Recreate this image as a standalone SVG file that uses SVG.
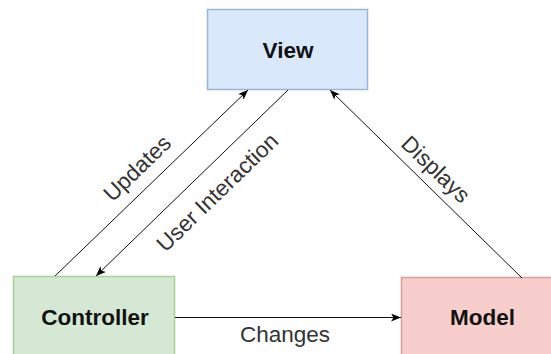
<svg xmlns="http://www.w3.org/2000/svg" width="551" height="354" viewBox="0 0 551 354">
<defs>
<marker id="arr" viewBox="0 0 10 8" refX="10" refY="4" markerWidth="10" markerHeight="8" markerUnits="userSpaceOnUse" orient="auto">
<path d="M0,0 L10,4 L0,8 L2.5,4 z" fill="#000"/>
</marker>
<style>
.node-text{font-family:"Liberation Sans",Arial,sans-serif;font-weight:bold;font-size:22.5px;fill:#111;text-anchor:middle}
.lbl{font-family:"Liberation Sans",Arial,sans-serif;font-size:22.5px;fill:#333;text-anchor:middle}
.edge{stroke:#111;stroke-width:1;fill:none}
</style>
</defs>
<rect width="551" height="354" fill="#fff"/>
<g id="view">
<rect x="207.5" y="9.5" width="160" height="80" fill="#dae8fc" stroke="#98b4df" stroke-width="1.5"/>
<text class="node-text" x="288" y="57.5">View</text>
</g>
<g id="controller">
<rect x="13.5" y="276.5" width="161" height="80" fill="#d5e8d4" stroke="#a9d097" stroke-width="1.5"/>
<text class="node-text" x="95" y="324.5">Controller</text>
</g>
<g id="model">
<rect x="401.5" y="277.5" width="161" height="80" fill="#f8cecc" stroke="#dc9b99" stroke-width="1.5"/>
<text class="node-text" x="482.5" y="325">Model</text>
</g>
<g id="connectors">
<line class="edge" x1="55" y1="276" x2="248" y2="90" marker-end="url(#arr)"/>
<line class="edge" x1="288" y1="90" x2="96" y2="276" marker-end="url(#arr)"/>
<line class="edge" x1="522" y1="278" x2="330" y2="90" marker-end="url(#arr)"/>
<line class="edge" x1="175" y1="317.5" x2="401" y2="317.5" marker-end="url(#arr)"/>
<text class="lbl" transform="translate(137,168) rotate(-44)" y="8">Updates</text>
<text class="lbl" transform="translate(217,192) rotate(-44)" y="8">User Interaction</text>
<text class="lbl" transform="translate(436,169) rotate(44)" y="8">Displays</text>
<text class="lbl" x="285" y="342">Changes</text>
</g>
</svg>
